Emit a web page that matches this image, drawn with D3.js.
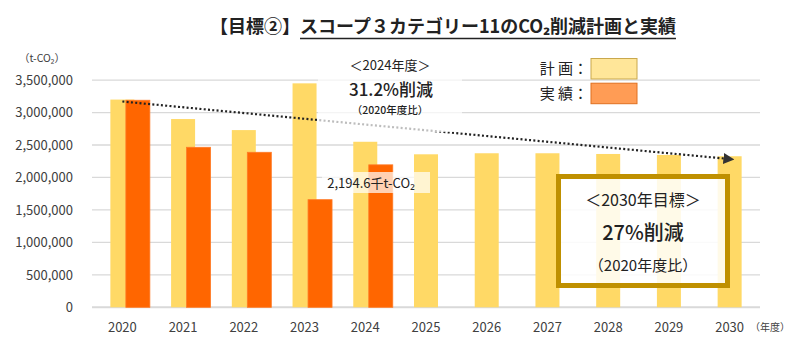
<!DOCTYPE html>
<html>
<head>
<meta charset="utf-8">
<script src="https://cdn.jsdelivr.net/npm/d3@7"></script>
<style>
  body { margin: 0; background: #fff; }
  svg { display: block; font-family: "Noto Sans CJK JP", "Noto Sans", sans-serif; }
</style>
</head>
<body>
<div id="chart"></div>
<script>
const years = ["2020","2021","2022","2023","2024","2025","2026","2027","2028","2029","2030"];
const plan = [3200000, 2900000, 2730000, 3450000, 2550000, 2357000, 2373000, 2373000, 2362000, 2347000, 2327000];
const actual = [3189800, 2465000, 2388000, 1658000, 2194600, null, null, null, null, null, null];
const yTicks = [0, 500000, 1000000, 1500000, 2000000, 2500000, 3000000, 3500000];
const trend = [{year: "2020", value: 3170000}, {year: "2030", value: 2290000}];

const width = 800, height = 351;
const marginLeft = 92, marginRight = 40, marginTop = 80.1, marginBottom = 43.7;

const svg = d3.select("#chart").append("svg")
    .attr("width", width)
    .attr("height", height);

const x = d3.scaleBand()
    .domain(years)
    .range([marginLeft, width - marginRight]);

const y = d3.scaleLinear()
    .domain([0, 3500000])
    .range([height - marginBottom, marginTop]);

const barW = 24;
const offset = 15.5;
const cx = d => x(d) + x.bandwidth() / 2;

// gridlines
svg.append("g")
    .selectAll("line")
    .data(yTicks)
    .enter().append("line")
    .attr("x1", marginLeft)
    .attr("x2", width - marginRight)
    .attr("y1", d => y(d))
    .attr("y2", d => y(d))
    .attr("stroke", "#d9d9d9")
    .attr("stroke-width", d => d === 0 ? 2 : 1.3);

// y labels
svg.append("g")
    .selectAll("text")
    .data(yTicks)
    .enter().append("text")
    .attr("x", 73)
    .attr("y", d => y(d))
    .attr("dy", "0.36em")
    .attr("text-anchor", "end")
    .style("font-size", "13px")
    .style("fill", "#404040")
    .text(d => d3.format(",")(d));

svg.append("text")
    .attr("x", 42)
    .attr("y", 62)
    .attr("text-anchor", "middle")
    .style("font-size", "10.5px")
    .style("fill", "#404040")
    .text("（t-CO₂）");

// x labels
svg.append("g")
    .selectAll("text")
    .data(years)
    .enter().append("text")
    .attr("x", d => cx(d))
    .attr("y", 332)
    .attr("text-anchor", "middle")
    .style("font-size", "13px")
    .style("fill", "#404040")
    .text(d => d);

svg.append("text")
    .attr("x", 770)
    .attr("y", 331)
    .attr("text-anchor", "middle")
    .style("font-size", "10px")
    .style("fill", "#404040")
    .text("（年度）");

// plan bars
svg.append("g")
    .selectAll("rect")
    .data(years)
    .enter().append("rect")
    .attr("x", d => cx(d) - barW / 2)
    .attr("y", (d, i) => y(plan[i]))
    .attr("width", barW)
    .attr("height", (d, i) => y(0) - y(plan[i]))
    .attr("fill", "#ffd966");

// actual bars
svg.append("g")
    .selectAll("rect")
    .data(years.filter((d, i) => actual[i] !== null))
    .enter().append("rect")
    .attr("x", d => cx(d) + offset - barW / 2)
    .attr("y", (d, i) => y(actual[i]))
    .attr("width", barW)
    .attr("height", (d, i) => y(0) - y(actual[i]))
    .attr("fill", "#ff6600")
    .attr("stroke", "#ff7a26")
    .attr("stroke-width", 0.8);

// trend arrow
svg.append("defs").append("marker")
    .attr("id", "arrow")
    .attr("viewBox", "0 0 10 10")
    .attr("refX", 2)
    .attr("refY", 5)
    .attr("markerWidth", 5)
    .attr("markerHeight", 5)
    .attr("markerUnits", "strokeWidth")
    .attr("orient", "auto")
    .append("path")
    .attr("d", "M0,0L10,5L0,10Z")
    .attr("fill", "#333");

svg.append("line")
    .attr("x1", cx(trend[0].year))
    .attr("y1", y(trend[0].value))
    .attr("x2", cx(trend[1].year) - 4)
    .attr("y2", y(trend[1].value))
    .attr("stroke", "#222")
    .attr("stroke-width", 2.2)
    .attr("stroke-dasharray", "2,2.3")
    .attr("marker-end", "url(#arrow)");

// 2024 note box
svg.append("rect")
    .attr("x", 318).attr("y", 55)
    .attr("width", 144).attr("height", 77)
    .attr("fill", "#fff").attr("opacity", 0.7);

svg.append("text")
    .attr("x", 390).attr("y", 70)
    .attr("text-anchor", "middle")
    .style("font-size", "13px").style("fill", "#222")
    .text("＜2024年度＞");
svg.append("text")
    .attr("x", 391).attr("y", 96)
    .attr("text-anchor", "middle")
    .style("font-size", "17px").style("font-weight", 500).style("fill", "#222")
    .text("31.2%削減");
svg.append("text")
    .attr("x", 390).attr("y", 114)
    .attr("text-anchor", "middle")
    .style("font-size", "10.5px").style("font-weight", 500).style("fill", "#222")
    .text("（2020年度比）");

// 2024 value label
svg.append("rect")
    .attr("x", 322).attr("y", 172)
    .attr("width", 108).attr("height", 21)
    .attr("fill", "#fff").attr("opacity", 0.7);
svg.append("text")
    .attr("x", 371).attr("y", 187.5)
    .attr("text-anchor", "middle")
    .style("font-size", "13px").style("fill", "#222")
    .text("2,194.6千t-CO₂");

// 2030 target box
svg.append("rect")
    .attr("x", 558.5).attr("y", 176.5)
    .attr("width", 169).attr("height", 109)
    .attr("fill", "#fff").attr("fill-opacity", 0.85)
    .attr("stroke", "#bf9000").attr("stroke-width", 5);

svg.append("text")
    .attr("x", 643).attr("y", 206)
    .attr("text-anchor", "middle")
    .style("font-size", "16px").style("fill", "#222")
    .text("＜2030年目標＞");
svg.append("text")
    .attr("x", 643).attr("y", 240)
    .attr("text-anchor", "middle")
    .style("font-size", "20px").style("font-weight", 500).style("fill", "#222")
    .text("27%削減");
svg.append("text")
    .attr("x", 643).attr("y", 271)
    .attr("text-anchor", "middle")
    .style("font-size", "15px").style("fill", "#222")
    .text("（2020年度比）");

// legend
const legend = [
    {label: "計 画：", fill: "#ffe699", stroke: "#c9a84c"},
    {label: "実 績：", fill: "#ff9c55", stroke: "#e07020"}
];
const lg = svg.append("g")
    .selectAll("g")
    .data(legend)
    .enter().append("g")
    .attr("transform", (d, i) => `translate(0, ${i * 24.7})`);
lg.append("rect")
    .attr("x", 591).attr("y", 58.5)
    .attr("width", 46).attr("height", 20.5)
    .attr("fill", d => d.fill)
    .attr("stroke", d => d.stroke);
lg.append("text")
    .attr("x", 588).attr("y", 74)
    .attr("text-anchor", "end")
    .style("font-size", "15px").style("fill", "#222")
    .text(d => d.label);

// title
const title = svg.append("text")
    .attr("x", 443)
    .attr("y", 33)
    .attr("text-anchor", "middle")
    .style("font-size", "18px")
    .style("font-weight", "bold")
    .style("fill", "#222");
title.append("tspan").text("【目標②】");
const under = title.append("tspan").text("スコープ３カテゴリー11のCO₂削減計画と実績");
const bb = under.node().getBBox();
svg.append("line")
    .attr("x1", bb.x).attr("x2", bb.x + bb.width)
    .attr("y1", 38.5).attr("y2", 38.5)
    .attr("stroke", "#222").attr("stroke-width", 1.5);
</script>
</body>
</html>
